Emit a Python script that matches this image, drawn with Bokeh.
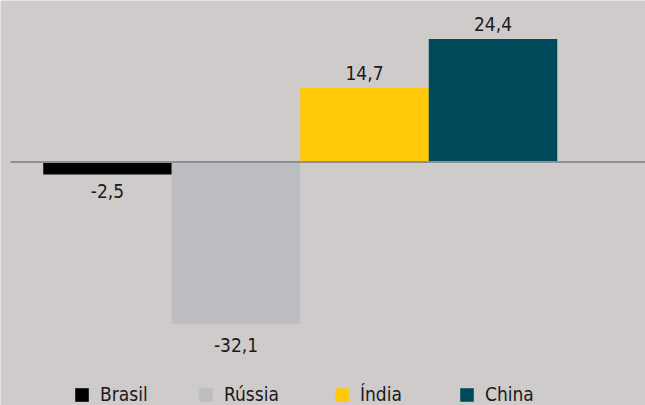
from bokeh.plotting import figure
from bokeh.models import ColumnDataSource, Legend, LegendItem, Range1d
from bokeh.core.properties import value
from bokeh.embed import file_html
from bokeh.resources import INLINE

countries = ["Brasil", "Rússia", "Índia", "China"]
values = [-2.5, -32.1, 14.7, 24.4]
labels = ["-2,5", "-32,1", "14,7", "24,4"]
colors = ["#000000", "#bcbdc0", "#ffc90a", "#004b5b"]

BG = "#cfcbca"
FONT = "'DejaVu Sans Condensed', 'Roboto Condensed', 'Liberation Sans Narrow', sans-serif"
label_offsets = [9, 14, -8, -8]          # pixel offsets of value labels (style)
legend_x = [73, 197, 333, 458]           # legend entry positions in pixels (layout)

xs = list(range(len(countries)))
src = ColumnDataSource(dict(x=xs, top=values, color=colors, label=labels, name=countries))

pos = [i for i, v in enumerate(values) if v >= 0]
neg = [i for i, v in enumerate(values) if v < 0]
src_pos = ColumnDataSource(dict(x=[xs[i] for i in pos], y=[values[i] for i in pos],
                                t=[labels[i] for i in pos], off=[label_offsets[i] for i in pos]))
src_neg = ColumnDataSource(dict(x=[xs[i] for i in neg], y=[values[i] for i in neg],
                                t=[labels[i] for i in neg], off=[label_offsets[i] for i in neg]))

X0, X1 = -0.8327, 4.1868
p = figure(width=645, height=405, output_backend="svg", toolbar_location=None,
           x_range=Range1d(X0, X1), y_range=Range1d(-48.31, 32.04),
           min_border_left=0, min_border_right=0, min_border_top=0, min_border_bottom=0)
p.background_fill_color = BG
p.border_fill_color = BG
p.outline_line_color = None
p.axis.visible = False
p.grid.visible = False

r = p.vbar(x="x", top="top", bottom=0, width=1.0, color="color", line_color=None, source=src)

p.segment(x0=X0 + 10 / 128.5, x1=X1, y0=0, y1=0, line_color="#8d9092", line_width=2)

p.text(x="x", y="y", text="t", source=src_pos, text_align="center", text_baseline="bottom",
       y_offset="off", text_font=value(FONT), text_font_size="19px", text_color="#1a1a1a")
p.text(x="x", y="y", text="t", source=src_neg, text_align="center", text_baseline="top",
       y_offset="off", text_font=value(FONT), text_font_size="19px", text_color="#1a1a1a")

for i in range(len(countries)):
    lg = Legend(items=[LegendItem(label=countries[i], renderers=[r], index=i)],
                orientation="horizontal", location=(legend_x[i], 0),
                glyph_width=17, glyph_height=17, label_standoff=10,
                padding=0, margin=0, border_line_alpha=0, background_fill_alpha=0,
                label_text_font=FONT, label_text_font_size="19px", label_text_color="#1a1a1a")
    p.add_layout(lg)

open("out.html", "w").write(file_html(p, INLINE))
